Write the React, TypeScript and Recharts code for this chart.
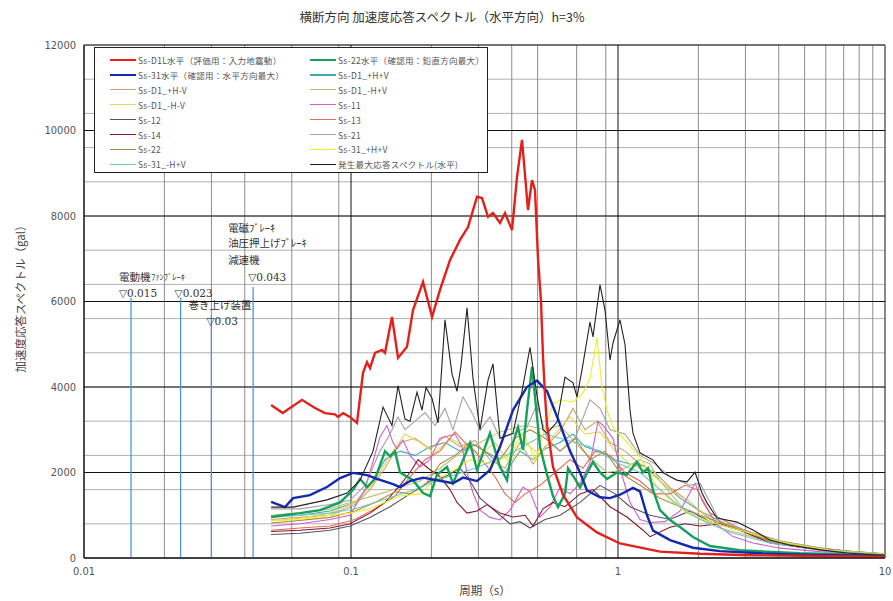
import React from "react";
import { LineChart, Line, XAxis, YAxis, CartesianGrid, ReferenceLine } from "recharts";

type Pt = [number, number]; // [period (s), acceleration (gal)]

// ---- response spectra, h = 3% ----
const ssD1L: Pt[] = [
  [0.0502, 3580], [0.0555, 3390], [0.0655, 3700], [0.0733, 3510], [0.0799, 3390], [0.0871, 3360],
  [0.0894, 3300], [0.0934, 3390], [0.0991, 3300], [0.1053, 3160], [0.1109, 4330], [0.1148, 4580],
  [0.1178, 4440], [0.123, 4800], [0.1307, 4870], [0.1341, 4800], [0.1424, 5640], [0.15, 4680],
  [0.1621, 4940], [0.1707, 5800], [0.1861, 6460], [0.2012, 5640], [0.2154, 6270], [0.2349, 6970],
  [0.256, 7440], [0.2743, 7740], [0.2965, 8450], [0.3095, 8420], [0.326, 7980], [0.3403, 8070],
  [0.3615, 7840], [0.3774, 8070], [0.4009, 7670], [0.4185, 8910], [0.437, 9780], [0.4602, 8140],
  [0.4764, 8840], [0.4888, 8610], [0.5017, 7000], [0.5148, 6000], [0.5238, 4700], [0.5329, 3800],
  [0.5422, 3100], [0.5709, 2130], [0.6223, 1480], [0.7022, 950], [0.8343, 600], [1.017, 340],
  [1.437, 150], [2.029, 100], [3.12, 65], [10, 30],
];

const ss22H: Pt[] = [
  [0.0502, 960], [0.0555, 1000], [0.0644, 1050], [0.0766, 1120], [0.091, 1300], [0.1017, 1590],
  [0.1081, 1850], [0.1148, 1660], [0.123, 1850], [0.1341, 2500], [0.14, 2380], [0.1462, 2500],
  [0.1526, 2000], [0.1707, 1820], [0.1861, 1520], [0.1977, 1450], [0.21, 1950], [0.2288, 2130],
  [0.241, 1750], [0.2627, 2290], [0.2791, 2690], [0.2965, 2060], [0.3316, 2920], [0.3615, 2130],
  [0.384, 1820], [0.4044, 2690], [0.4221, 3060], [0.4408, 2530], [0.4562, 3460], [0.4764, 4470],
  [0.4973, 3300], [0.5103, 2600], [0.5422, 1950], [0.5709, 1450], [0.5961, 1190], [0.6331, 1500],
  [0.6497, 2100], [0.6902, 1850], [0.7206, 1650], [0.7654, 1990], [0.806, 2250], [0.8562, 2000],
  [0.9094, 1850], [0.9914, 2000], [1.08, 1950], [1.178, 2250], [1.241, 2000], [1.295, 2100],
  [1.353, 1590], [1.437, 1120], [1.566, 890], [1.707, 725], [1.91, 490], [2.211, 280],
  [2.864, 180], [4.805, 110], [10, 60],
];

const ss31H: Pt[] = [
  [0.0502, 1310], [0.0566, 1190], [0.0607, 1400], [0.0702, 1470], [0.0813, 1660], [0.091, 1870],
  [0.1017, 1990], [0.1148, 1940], [0.1251, 1850], [0.1437, 1730], [0.1526, 1660], [0.1663, 1800],
  [0.1861, 1880], [0.21, 1820], [0.241, 1750], [0.2627, 1880], [0.2965, 1800], [0.3316, 2060],
  [0.3615, 2600], [0.4044, 3460], [0.4562, 4000], [0.4973, 4150], [0.5422, 3900], [0.5961, 3250],
  [0.661, 2500], [0.7206, 2000], [0.7654, 1580], [0.8562, 1420], [0.9333, 1400], [1.017, 1480],
  [1.138, 1640], [1.209, 1560], [1.284, 1000], [1.353, 640], [1.566, 420], [1.91, 240],
  [2.41, 160], [3.403, 110], [4.805, 80], [7.395, 60], [10, 50],
];

const ssD1pp: Pt[] = [
  [0.0502, 980], [0.0644, 1000], [0.0834, 1100], [0.1035, 1300], [0.1178, 1700], [0.1341, 2300],
  [0.1526, 2500], [0.1737, 2400], [0.1977, 2600], [0.2249, 2700], [0.256, 2500], [0.2914, 2650],
  [0.3316, 2400], [0.3774, 2000], [0.4295, 2500], [0.4805, 2300], [0.5329, 2550], [0.6064, 2700],
  [0.6783, 2900], [0.7523, 2600], [0.8562, 2500], [0.9745, 2300], [1.109, 2200], [1.262, 2150],
  [1.437, 1800], [1.707, 1400], [2.029, 1100], [2.627, 750], [3.71, 380], [6.223, 170], [10, 90],
];

const ssD1pm: Pt[] = [
  [0.0502, 900], [0.0644, 950], [0.0834, 1000], [0.1035, 1250], [0.1178, 1600], [0.1341, 2100],
  [0.1526, 2700], [0.1737, 2800], [0.1977, 2550], [0.2249, 2850], [0.256, 2600], [0.2914, 2750],
  [0.3316, 2300], [0.3774, 2100], [0.4295, 2700], [0.4805, 2200], [0.5329, 2600], [0.6064, 2950],
  [0.6783, 3500], [0.7523, 3000], [0.8343, 3200], [0.9333, 2700], [1.062, 2500], [1.209, 2200],
  [1.376, 2000], [1.566, 1650], [1.861, 1300], [2.211, 900], [2.864, 650], [4.044, 350],
  [6.223, 180], [10, 90],
];

const ssD1mp: Pt[] = [
  [0.0502, 1000], [0.0644, 1050], [0.0834, 1150], [0.0991, 1300], [0.1284, 1500], [0.1526, 1650],
  [0.1813, 1800], [0.2154, 2100], [0.256, 2450], [0.3042, 2700], [0.3615, 2950], [0.4114, 3050],
  [0.4562, 3100], [0.5329, 3000], [0.6064, 3100], [0.6902, 2700], [0.7855, 2350], [0.9094, 2000],
  [1.017, 2050], [1.209, 2300], [1.318, 2200], [1.437, 1800], [1.813, 1050], [2.41, 700],
  [3.403, 450], [4.805, 250], [10, 90],
];

const ssD1mm: Pt[] = [
  [0.0502, 870], [0.0644, 930], [0.0834, 1050], [0.1035, 1300], [0.123, 1800], [0.14, 2400],
  [0.1593, 2900], [0.1813, 2700], [0.2064, 2450], [0.2349, 2800], [0.2673, 2600], [0.3042, 2400],
  [0.3462, 2700], [0.394, 2200], [0.4484, 2700], [0.5103, 2400], [0.5808, 2900], [0.661, 3300],
  [0.7523, 2900], [0.8562, 2950], [0.9745, 2500], [1.109, 2200], [1.318, 2000], [1.566, 1600],
  [1.861, 1300], [2.308, 850], [2.99, 600], [4.044, 350], [6.223, 170], [10, 90],
];

const ss11: Pt[] = [
  [0.0502, 750], [0.0644, 800], [0.0834, 900], [0.0991, 1000], [0.1128, 1600], [0.1284, 2830],
  [0.1364, 3100], [0.1437, 2700], [0.1487, 2550], [0.1566, 2760], [0.1663, 2400], [0.1813, 2130],
  [0.1977, 2300], [0.2154, 2800], [0.2452, 2900], [0.2605, 2600], [0.272, 2000], [0.2864, 1520],
  [0.3042, 1120], [0.3316, 950], [0.3615, 890], [0.394, 1120], [0.4408, 1660], [0.4682, 1550],
  [0.5103, 960], [0.5563, 1190], [0.6064, 1660], [0.661, 1500], [0.7206, 1750], [0.7855, 2220],
  [0.8416, 3200], [0.8786, 3100], [0.9578, 2800], [1.017, 2100], [1.109, 1300], [1.209, 900],
  [1.318, 830], [1.5, 850], [1.707, 1100], [1.943, 1750], [2.082, 1300], [2.348, 780],
  [2.696, 500], [3.203, 350], [4.044, 230], [5.71, 150], [10, 80],
];

const ss12: Pt[] = [
  [0.0502, 550], [0.0644, 580], [0.0834, 650], [0.0991, 750], [0.1178, 950], [0.14, 1200],
  [0.1663, 1500], [0.1977, 1800], [0.2249, 1900], [0.256, 2100], [0.2791, 1800], [0.3042, 1400],
  [0.3316, 1200], [0.3615, 1000], [0.394, 800], [0.4295, 850], [0.4682, 700], [0.5329, 900],
  [0.6064, 1000], [0.7206, 1300], [0.8562, 1700], [0.9745, 1500], [1.109, 1200], [1.318, 1000],
  [1.566, 900], [1.861, 1100], [2.211, 850], [2.864, 650], [4.044, 380], [5.71, 230],
  [8.062, 130], [10, 90],
];

const ss13: Pt[] = [
  [0.0502, 650], [0.0644, 700], [0.0834, 750], [0.1035, 900], [0.123, 1150], [0.1462, 1450],
  [0.1663, 1900], [0.1893, 2300], [0.2154, 2500], [0.2452, 2950], [0.2673, 2700], [0.2914, 2500],
  [0.3176, 2200], [0.3462, 1900], [0.3774, 1500], [0.4114, 1300], [0.4484, 1500], [0.5103, 1700],
  [0.5808, 2000], [0.661, 2300], [0.7394, 2100], [0.8201, 2500], [0.9333, 2400], [1.062, 2000],
  [1.209, 1800], [1.376, 1500], [1.566, 1500], [1.782, 1700], [1.977, 1600], [2.211, 1050],
  [2.743, 750], [3.71, 400], [5.238, 250], [7.395, 150], [10, 90],
];

const ss14: Pt[] = [
  [0.0502, 620], [0.0644, 650], [0.0834, 700], [0.0991, 800], [0.1178, 1050], [0.1341, 1300],
  [0.1526, 1700], [0.1663, 2000], [0.1783, 2300], [0.1943, 2100], [0.2154, 1900], [0.2349, 1600],
  [0.2495, 1300], [0.272, 1050], [0.2965, 1100], [0.3231, 1250], [0.3615, 1050], [0.4044, 960],
  [0.4484, 1000], [0.4805, 750], [0.5238, 1150], [0.5709, 1300], [0.6331, 1200], [0.7206, 1500],
  [0.806, 1600], [0.9333, 1200], [1.08, 960], [1.241, 650], [1.318, 500], [1.566, 720],
  [1.782, 800], [2.029, 750], [2.41, 800], [2.864, 650], [3.71, 350], [4.805, 250],
  [6.784, 150], [10, 80],
];

const ss21: Pt[] = [
  [0.0502, 1150], [0.0644, 1150], [0.0834, 1250], [0.0991, 1350], [0.1128, 1700], [0.1284, 2500],
  [0.14, 2900], [0.15, 3300], [0.1593, 3000], [0.1737, 3200], [0.1893, 3400], [0.2064, 3100],
  [0.2249, 3500], [0.241, 3000], [0.2627, 3770], [0.284, 3400], [0.3042, 2990], [0.3316, 3300],
  [0.3615, 2800], [0.4044, 2900], [0.4562, 3060], [0.4973, 3600], [0.5422, 2800], [0.6064, 2500],
  [0.6902, 2800], [0.7855, 3700], [0.8562, 3500], [0.9333, 3000], [1.062, 2900], [1.209, 2400],
  [1.376, 2200], [1.566, 1900], [1.861, 1700], [2.029, 1750], [2.41, 850], [2.99, 650],
  [4.044, 400], [6.223, 200], [10, 100],
];

const ss22: Pt[] = [
  [0.0502, 820], [0.0644, 880], [0.0834, 950], [0.1035, 1100], [0.123, 1300], [0.1462, 1550],
  [0.1663, 1500], [0.1893, 1700], [0.2154, 2200], [0.2452, 2400], [0.2791, 2700], [0.3176, 2500],
  [0.3615, 2300], [0.4114, 2800], [0.4682, 3000], [0.5329, 2800], [0.6064, 2500], [0.6902, 2800],
  [0.7855, 2300], [0.8939, 2500], [1.017, 2000], [1.209, 1700], [1.437, 1400], [1.707, 1200],
  [2.029, 1000], [2.627, 750], [3.71, 400], [5.71, 200], [10, 100],
];

const ss31pp: Pt[] = [
  [0.0502, 870], [0.0644, 900], [0.0834, 1000], [0.0991, 1050], [0.1178, 1150], [0.14, 1350],
  [0.1526, 1450], [0.1813, 1500], [0.2029, 1800], [0.2349, 2000], [0.2791, 2300], [0.3316, 2200],
  [0.394, 2400], [0.437, 2900], [0.4682, 2600], [0.4888, 2250], [0.5238, 2900], [0.5709, 3600],
  [0.6064, 3700], [0.6783, 3650], [0.7394, 3860], [0.7855, 4200], [0.8343, 5150], [0.8711, 4000],
  [0.9094, 3460], [0.9578, 3060], [1.062, 2750], [1.209, 2360], [1.4, 1660], [1.526, 1430],
  [1.813, 1050], [2.211, 850], [2.864, 650], [4.044, 380], [6.223, 180], [10, 90],
];

const ss31mp: Pt[] = [
  [0.0502, 950], [0.0644, 1000], [0.0834, 1050], [0.1035, 1150], [0.123, 1300], [0.1462, 1450],
  [0.1737, 1600], [0.2064, 1800], [0.2452, 1950], [0.2914, 2100], [0.3462, 2300], [0.4114, 2500],
  [0.4682, 2700], [0.5329, 2900], [0.6064, 2800], [0.6902, 2700], [0.7855, 2600], [0.8939, 2400],
  [1.017, 2200], [1.209, 2000], [1.437, 1600], [1.707, 1200], [2.029, 900], [2.627, 600],
  [3.71, 350], [5.71, 180], [10, 80],
];

const ssMax: Pt[] = [
  [0.0502, 1190], [0.0607, 1190], [0.0813, 1360], [0.0967, 1520], [0.1081, 1820], [0.1209, 2500],
  [0.1318, 3530], [0.1424, 3100], [0.15, 4030], [0.1593, 3250], [0.1663, 3200], [0.1767, 3880],
  [0.1845, 3460], [0.191, 3990], [0.2012, 3730], [0.2118, 3160], [0.2249, 5570], [0.239, 4300],
  [0.2495, 3900], [0.2582, 4500], [0.272, 5850], [0.2864, 4200], [0.3042, 3000], [0.326, 4160],
  [0.3403, 4540], [0.3615, 2800], [0.4044, 2920], [0.437, 3900], [0.4682, 4930], [0.4973, 3800],
  [0.5238, 3000], [0.5422, 2920], [0.5909, 3180], [0.6331, 4230], [0.6783, 4100], [0.7022, 3770],
  [0.7331, 4400], [0.7855, 5520], [0.806, 5170], [0.8562, 6390], [0.8939, 5800], [0.9333, 4630],
  [0.9578, 5030], [1.017, 5570], [1.062, 5000], [1.109, 3460], [1.138, 2920], [1.209, 2460],
  [1.353, 2290], [1.474, 1990], [1.663, 1820], [1.813, 1780], [1.943, 2010], [2.064, 1520],
  [2.155, 1290], [2.348, 935], [2.791, 840], [3.203, 655], [3.71, 420], [4.409, 300],
  [5.71, 190], [7.208, 117], [10, 60],
];

// legend order (two columns, row by row)
const SERIES = [
  { name: "Ss-D1L水平（評価用：入力地震動）", color: "#e3201b", width: 2.4, data: ssD1L },
  { name: "Ss-22水平（確認用：鉛直方向最大）", color: "#16a05c", width: 2.4, data: ss22H },
  { name: "Ss-31水平（確認用：水平方向最大）", color: "#1428b0", width: 2.4, data: ss31H },
  { name: "Ss-D1_+H+V", color: "#3fa9b5", width: 1.1, data: ssD1pp },
  { name: "Ss-D1_+H-V", color: "#c9a46c", width: 1.1, data: ssD1pm },
  { name: "Ss-D1_-H+V", color: "#b9bf72", width: 1.1, data: ssD1mp },
  { name: "Ss-D1_-H-V", color: "#e3d85a", width: 1.1, data: ssD1mm },
  { name: "Ss-11", color: "#d25cd2", width: 1.1, data: ss11 },
  { name: "Ss-12", color: "#585066", width: 1.1, data: ss12 },
  { name: "Ss-13", color: "#e46a52", width: 1.1, data: ss13 },
  { name: "Ss-14", color: "#84182c", width: 1.1, data: ss14 },
  { name: "Ss-21", color: "#a3a3a3", width: 1.1, data: ss21 },
  { name: "Ss-22", color: "#a98b45", width: 1.1, data: ss22 },
  { name: "Ss-31_+H+V", color: "#eeee22", width: 1.1, data: ss31pp },
  { name: "Ss-31_-H+V", color: "#72c9c2", width: 1.1, data: ss31mp },
  { name: "発生最大応答スペクトル(水平)", color: "#222222", width: 1.1, data: ssMax },
];

// thin lines underneath, the heavy ones on top
const DRAW_ORDER = [3, 4, 5, 6, 7, 8, 9, 10, 11, 12, 13, 14, 1, 2, 15, 0];

// equipment natural periods (s) and marker heights (gal)
const EQUIP_PERIODS = [0.015, 0.023, 0.03, 0.043];
const EQUIP_HEIGHTS = [6080, 6080, 5680, 6340];
const EQUIP_TEXT = [
  [{ t: "電動機", dx: -12, dy: -21 }, { t: "ﾌｧﾝﾌﾞﾚｰｷ", dx: 20, dy: -21, s: 8.5 }, { t: "▽0.015", dx: -12, dy: -5 }],
  [{ t: "▽0.023", dx: -6, dy: -5 }],
  [{ t: "巻き上げ装置", dx: -23, dy: -10 }, { t: "▽0.03", dx: -5, dy: 6 }],
  [
    { t: "電磁ﾌﾞﾚｰｷ", dx: -25, dy: -59 },
    { t: "油圧押上げﾌﾞﾚｰｷ", dx: -25, dy: -44 },
    { t: "減速機", dx: -25, dy: -27 },
    { t: "▽0.043", dx: -5, dy: -10 },
  ],
];

const X_TICKS = [0.01, 0.1, 1, 10];
const Y_TICKS = [0, 2000, 4000, 6000, 8000, 10000, 12000];

const Y_MINOR = Array.from({ length: 31 }, (_, i) => i * 400);
const X_MINOR = [0.01, 0.1, 1].flatMap((d) => [2, 3, 4, 5, 6, 7, 8, 9].map((k) => +(k * d).toPrecision(3)));

const JP = "'Noto Sans CJK JP', 'Noto Sans', sans-serif";
const NUM = "'Liberation Sans Narrow', 'DejaVu Sans Condensed', 'Noto Sans', sans-serif";
const MINCHO = "'DejaVu Serif', 'Noto Sans CJK JP', serif";

function EquipLabel(props: any) {
  const { viewBox, items } = props;
  if (!viewBox) return null;
  return (
    <g>
      {items.map((it: any, i: number) => (
        <text
          key={i}
          x={viewBox.x + it.dx}
          y={viewBox.y + it.dy}
          dominantBaseline="central"
          fontSize={it.s ?? 10.5}
          fontFamily={MINCHO}
          fill="#333"
        >
          {it.t}
        </text>
      ))}
    </g>
  );
}

function LegendBox() {
  return (
    <div
      style={{
        position: "absolute",
        left: 94,
        top: 47,
        width: 392,
        height: 124,
        background: "#fff",
        border: "1px solid #222",
        fontFamily: JP,
      }}
    >
      {SERIES.map((s, i) => {
        const row = Math.floor(i / 2);
        const col = i % 2;
        const cy = 12 + row * 14.9;
        const left = col === 0 ? 15 : 215;
        return (
          <div key={s.name} style={{ position: "absolute", left, top: cy - 7, height: 14, display: "flex", alignItems: "center" }}>
            <div style={{ width: 26, height: s.width > 2 ? 2.5 : 1.3, background: s.color }} />
            <span style={{ marginLeft: 2, fontSize: 8.5, color: "#555", whiteSpace: "nowrap", letterSpacing: 0.3 }}>{s.name}</span>
          </div>
        );
      })}
    </div>
  );
}

export default function App() {
  return (
    <div style={{ position: "absolute", left: 0, top: 0, width: 893, height: 601, background: "#fff" }}>
      <LineChart width={893} height={601} margin={{ top: 45, right: 8, bottom: 0, left: 0 }}>
        <CartesianGrid horizontalValues={Y_MINOR} vertical={false} stroke="#b0b0b0" strokeWidth={1} />
        <CartesianGrid verticalValues={X_MINOR} horizontal={false} stroke="#8c8c8c" strokeWidth={1} fill="none" />
        <CartesianGrid horizontalValues={Y_TICKS} verticalValues={X_TICKS} stroke="#111" strokeWidth={1} fill="none" />
        <XAxis
          dataKey="T"
          type="number"
          scale="log"
          domain={[0.01, 10]}
          allowDataOverflow
          ticks={X_TICKS}
          tickFormatter={(v: number) => String(v)}
          height={43}
          tickSize={0}
          tickMargin={9}
          axisLine={{ stroke: "#111" }}
          tick={{ fontSize: 11, fill: "#555", fontFamily: NUM }}
        />
        <YAxis
          type="number"
          domain={[0, 12000]}
          ticks={Y_TICKS}
          width={84}
          tickSize={0}
          tickMargin={8}
          axisLine={{ stroke: "#111" }}
          tick={{ fontSize: 11, fill: "#555", fontFamily: NUM }}
        />
        {EQUIP_PERIODS.map((p, i) => (
          <ReferenceLine
            key={p}
            segment={[{ x: p, y: 0 }, { x: p, y: EQUIP_HEIGHTS[i] }]}
            stroke="#4f93dc"
            strokeWidth={1.3}
            label={<EquipLabel items={EQUIP_TEXT[i]} />}
          />
        ))}
        {DRAW_ORDER.map((idx) => {
          const s = SERIES[idx];
          return (
            <Line
              key={s.name}
              name={s.name}
              data={s.data.map(([T, v]) => ({ T, v }))}
              dataKey="v"
              type="linear"
              stroke={s.color}
              strokeWidth={s.width}
              dot={false}
              activeDot={false}
              isAnimationActive={false}
            />
          );
        })}
      </LineChart>

      <LegendBox />

      <div style={{ position: "absolute", left: 442, top: 16, transform: "translate(-50%, -50%)", whiteSpace: "nowrap", fontSize: 12.5, color: "#333", fontFamily: JP }}>
        横断方向 加速度応答スペクトル（水平方向）h=3%
      </div>
      <div style={{ position: "absolute", left: 20, top: 296, transform: "translate(-50%, -50%) rotate(-90deg)", whiteSpace: "nowrap", fontSize: 11.5, color: "#444", fontFamily: JP }}>
        加速度応答スペクトル（gal）
      </div>
      <div style={{ position: "absolute", left: 485, top: 590, transform: "translate(-50%, -50%)", whiteSpace: "nowrap", fontSize: 11.5, color: "#444", fontFamily: JP }}>
        周期（s）
      </div>
    </div>
  );
}
